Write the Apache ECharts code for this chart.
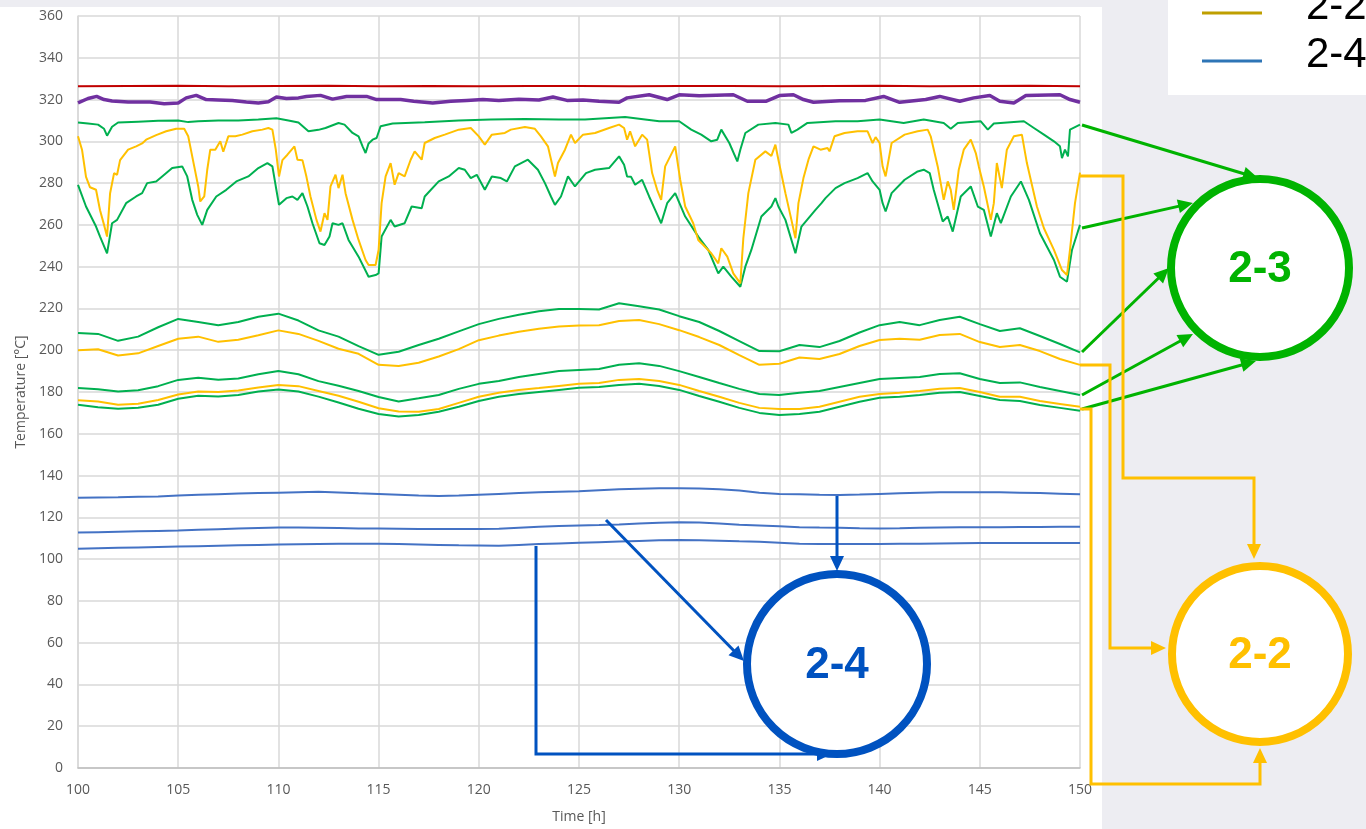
<!DOCTYPE html>
<html>
<head>
<meta charset="utf-8">
<script src="https://cdn.jsdelivr.net/npm/echarts@6/dist/echarts.min.js"></script>
<style>
  html, body { margin: 0; padding: 0; background: #EDEDF2; }
  #chart { width: 1366px; height: 829px; }
</style>
</head>
<body>
<div id="chart"></div>
<script>
// ---- time base for the slowly varying channels (hours) ----
const hours = [100,101,102,103,104,105,106,107,108,109,110,111,112,113,114,115,116,117,118,119,120,
  121,122,123,124,125,126,127,128,129,130,131,132,133,134,135,136,137,138,139,140,
  141,142,143,144,145,146,147,148,149,150];

// ---- fast channels: [time h, temperature °C] ----
const redTop = [[100,326.4],[102.5,326.5],[105,326.6],[107.5,326.4],[110,326.5],[112.5,326.6],[115,326.4],
  [117.5,326.5],[120,326.4],[122.5,326.5],[125,326.5],[127.5,326.4],[130,326.5],[132.5,326.5],[135,326.4],
  [137.5,326.5],[140,326.6],[142.5,326.4],[145,326.5],[147.5,326.6],[150,326.4]];

const purpleTop = [[100,318.4],[100.5,320.5],[100.93,321.5],[101.3,320],[101.7,319.3],[102.5,318.8],[103.6,318.8],
  [104.3,318],[105,318.4],[105.4,320.8],[105.9,322],[106.4,320],[107,319.8],[107.7,319.5],[108.4,318.8],[109,318.4],
  [109.5,319],[109.9,321.2],[110.4,320.5],[111,320.8],[111.4,321.5],[112.1,322],[112.7,320.2],[113.4,321.5],
  [114.4,321.5],[114.9,320],[116.1,320],[116.75,319.2],[117.7,318.4],[118.6,319.2],[119.4,319.6],[120.2,320],
  [121,319.6],[122,320.2],[123,319.8],[123.7,321.2],[124.4,319.6],[125.2,319.8],[126,319.2],[127,318.7],
  [127.4,320.8],[128.5,322.3],[129.4,320],[130,322.3],[131,321.8],[132.7,322.3],[133.4,319.2],[134.35,319.2],
  [135,321.9],[135.7,322.3],[136.2,320],[136.7,318.7],[138,319.4],[139.3,319.6],[140.2,321.5],[141,318.7],
  [142.3,320],[143,321.5],[144,319.2],[144.7,320.8],[145.5,321.9],[146,319.2],[146.7,318.4],[147.3,321.9],
  [149,322.3],[149.5,320],[150,318.7]];

const green23a = [[100,309],[100.5,308.5],[101,308],[101.3,306],[101.45,302.7],[101.7,307],[102,309],[103,309.4],
  [104,309.8],[105,310],[105.5,309.2],[106,309.6],[107,310],[108,310],[109,310.4],[109.9,311],[110.5,310],
  [111,309],[111.5,304.8],[112,305.5],[112.35,306.4],[113,308.8],[113.3,308],[113.7,304],[114,302.4],
  [114.2,297.6],[114.35,294.4],[114.5,299],[114.7,300.8],[114.9,301.6],[115.1,307.2],[115.7,308.5],
  [117.3,309.1],[119,310],[120.6,310.4],[122.3,310.7],[124,310.4],[125.3,310.4],[127.3,311.7],[129,309.6],
  [130,309.6],[130.6,305.6],[131.1,303.2],[131.6,300],[131.9,300.8],[132.1,305.6],[132.5,299.2],[132.9,290.4],
  [133.05,296],[133.3,304],[133.95,308],[134.8,308.8],[135.45,308],[135.6,304],[135.9,305.6],[136.4,308.8],
  [137.8,309.6],[138.9,309.6],[140,310.4],[141.2,308.8],[142.2,310.4],[143.2,308.8],[143.55,306],[143.9,308.8],
  [145.05,309.6],[145.4,305.6],[145.7,308.5],[147.2,309.6],[147.7,306.4],[148.2,303.2],[148.7,300],[149,297.6],
  [149.1,292],[149.25,296],[149.4,292.8],[149.5,305.6],[150,308]];

const yellow22a = [[100,302.4],[100.2,296],[100.4,283],[100.6,278],[100.9,276.8],[101.1,267],[101.3,260],
  [101.45,254.4],[101.6,275],[101.8,284.8],[101.95,284],[102.1,291],[102.5,296],[102.9,297.6],[103.2,299],
  [103.4,300.8],[103.9,303],[104.4,304.8],[104.9,306],[105.3,306],[105.5,302.4],[105.8,288],[106,278.4],
  [106.1,271.2],[106.3,273.6],[106.45,286.4],[106.6,296],[106.85,296],[107.1,300],[107.25,295],[107.5,302.4],
  [107.85,302.4],[108.2,303.2],[108.7,304.8],[109.2,305.6],[109.5,306.4],[109.7,305.6],[109.87,296],
  [110.03,283.2],[110.2,291],[110.45,293.6],[110.8,297.6],[110.95,291.2],[111.2,291],[111.4,283],[111.6,273.6],
  [111.9,262.4],[112.1,256.8],[112.3,265.6],[112.45,262.4],[112.6,278.4],[112.85,284],[113,277.6],[113.2,284],
  [113.35,275.2],[113.7,262.4],[114,252.8],[114.35,243.2],[114.5,240.8],[114.85,240.8],[115,248],[115.15,270.4],
  [115.35,283.2],[115.6,289.6],[115.8,279.2],[116,284.8],[116.3,283.2],[116.6,291.2],[116.8,295.2],
  [117.15,291.2],[117.3,299.2],[117.8,301.6],[118.3,303.2],[119,305.6],[119.6,306.4],[120,302.4],[120.3,298.4],
  [120.65,303.2],[121.3,304],[121.6,305.6],[122.3,306.9],[122.8,306],[123.1,302.4],[123.45,297.6],[123.8,283.2],
  [123.95,289.6],[124.3,296],[124.6,303.2],[124.8,299.2],[125.2,303.2],[125.8,304],[126.5,306.4],[127,308],
  [127.25,306.4],[127.4,300.8],[127.55,304.8],[127.8,297.6],[128.15,303.2],[128.4,300.8],[128.65,284.8],
  [128.9,276.8],[129.1,272],[129.3,288],[129.55,292.8],[129.8,297.6],[130.05,281.6],[130.3,268.8],[130.7,260.8],
  [130.95,252.8],[131.2,250.4],[131.6,246.4],[131.95,241.6],[132.1,248.8],[132.4,244.8],[132.7,236.8],
  [133.05,232],[133.2,253.6],[133.45,275.2],[133.8,291.2],[134.3,295.2],[134.6,293],[134.8,298.4],[134.95,291.2],
  [135.3,275.2],[135.6,262.4],[135.8,253.6],[135.95,270.4],[136.2,282.4],[136.45,291.2],[136.7,297.6],
  [137.05,296],[137.4,296.8],[137.5,295.2],[137.75,302.4],[138.25,304],[138.9,304.8],[139.4,304.8],
  [139.65,299.2],[139.8,302],[140,299.2],[140.15,288],[140.3,283.2],[140.6,299.2],[141.25,303.2],[141.9,304.8],
  [142.4,305.6],[142.55,302.4],[142.9,288],[143.2,272],[143.4,280.8],[143.55,276.8],[143.7,267.2],[143.95,286.4],
  [144.2,296],[144.55,300.8],[144.8,294.4],[144.95,288],[145.2,278.4],[145.55,262.4],[145.7,270.4],
  [145.85,289.6],[146.1,277.6],[146.35,296],[146.7,302.4],[147.1,303.2],[147.35,289.6],[147.85,268.8],
  [148.2,258.4],[148.7,248],[149.1,238.4],[149.35,236],[149.5,248],[149.75,270.4],[150,285]];

const green23b = [[100,279.2],[100.4,268.8],[100.9,259.2],[101.1,254.4],[101.45,246.4],[101.7,260.8],
  [101.95,262.4],[102.4,270.4],[102.9,273.6],[103.2,275.2],[103.45,280],[103.9,280.8],[104.2,283.2],
  [104.7,287.2],[105.2,288],[105.45,283.2],[105.7,272],[105.95,264.8],[106.2,260],[106.45,267.2],[106.9,273.6],
  [107.4,276.8],[107.9,280.8],[108.5,283.2],[109,287.2],[109.45,289.6],[109.7,288],[109.87,278.4],[110.03,269.6],
  [110.4,272.8],[110.7,273.6],[110.95,272],[111.2,275.2],[111.45,268.8],[111.7,260.8],[112.05,251.2],
  [112.3,250.4],[112.55,254.4],[112.7,260.8],[113,260],[113.2,260.8],[113.5,252.8],[114,244.8],[114.5,235.2],
  [114.85,236],[115,236.8],[115.15,254.4],[115.6,262.4],[115.8,259.2],[116.3,260.8],[116.65,268.8],[117.15,268],
  [117.3,273.6],[118,280.8],[118.5,283.2],[119,287.2],[119.3,286.4],[119.6,282.4],[119.9,284],[120.3,276.8],
  [120.65,283.2],[121.1,282.4],[121.4,280.8],[121.8,288],[122.45,291.2],[122.95,286.4],[123.3,280],[123.6,273.6],
  [123.8,269.6],[124.1,273.6],[124.45,283.2],[124.8,278.4],[125.35,284.8],[125.8,286.4],[126.5,287.2],
  [127,292.8],[127.25,288.8],[127.4,283.2],[127.6,283],[127.8,279.2],[128.15,281.6],[128.5,273.6],[128.8,267.2],
  [129.1,260.8],[129.4,270.4],[129.8,275.2],[130.3,264],[130.95,254.4],[131.45,248],[131.95,236.8],[132.2,240],
  [132.6,235.2],[133.05,230.4],[133.3,240],[133.6,248],[134.1,264],[134.6,268.8],[134.8,272.8],[134.95,268.8],
  [135.3,262.4],[135.8,246.4],[136.1,259.2],[136.8,267.2],[137.1,270.4],[137.3,272.8],[137.8,277.6],[138.25,280],
  [138.9,282.4],[139.4,284.8],[139.65,280.8],[140,276.8],[140.15,270.4],[140.3,266.4],[140.6,275.2],
  [141.25,281.6],[141.9,285.6],[142.2,286.4],[142.5,284.8],[142.7,276.8],[143.15,261.6],[143.4,264],
  [143.65,256.8],[144.05,273.6],[144.55,278.4],[144.9,268.8],[145.2,267.2],[145.55,254.4],[145.85,265.6],
  [146.05,260.8],[146.55,273.6],[147.05,280.8],[147.45,272],[148,256],[148.7,243.2],[149,235.2],[149.35,232.8],
  [149.6,248],[150,260]];

// ---- slow channels, one value per hour ----
const green23c = [208.3,207.8,204.5,206.5,211,215,213.5,212,213.5,216,217.5,214.2,209.5,206.5,202,197.8,
  199.3,202.5,205.5,209,212.5,215,217,218.7,219.7,219.7,219.5,222.5,221,219.5,216.3,213.5,209.2,204.4,199.6,
  199.5,202.5,201.5,204.4,208.5,212,213.5,212,214.5,216,212.5,209.2,210.5,206.8,203,199];
const yellow22b = [200,200.5,197.5,198.5,202,205.5,206.5,204,205,207.2,209.5,207.8,204.5,200.7,198.3,193,
  192.5,194,197,200.5,204.8,207,208.8,210.3,211.3,211.8,212,214,214.5,212.5,209.6,206.3,202.5,197.7,193,
  193.5,196.5,195.8,198.2,202,204.9,205.5,205,207.3,207.8,203.9,201.5,202.5,199.6,195.8,193];
const green23d = [181.9,181.3,180.2,180.8,182.8,185.8,186.8,185.9,186.5,188.5,190,188.5,185.2,183,180.5,177.6,
  175.5,177,178.6,181.5,183.9,185.3,187.2,188.6,190,190.5,191,193,193.8,192.5,190,187.2,184.3,181.5,179,
  178.6,179.6,180.5,182.4,184.3,186.2,186.7,187.2,188.6,189,186.2,184.3,184.6,182.4,180.5,178.6];
const yellow22c = [176,175.5,173.9,174.4,176.2,178.8,180.2,180,180.7,182.2,183.4,182.8,180.5,178.2,175.3,172.2,
  170.7,170.5,171.9,174.8,177.7,179.6,181,181.9,182.9,183.9,184.3,185.8,186.2,185.3,183.4,180.5,177.7,174.8,
  172.4,171.9,171.9,172.9,175.3,177.7,179,179.6,180.5,181.5,181.9,180,177.7,177.7,175.7,174.3,172.9];
const green23e = [173.9,172.7,172,172.5,173.9,176.8,178.2,177.9,178.6,180.2,181.2,180.2,177.8,175,172,169.5,
  168.3,169,170.5,172.9,175.7,177.7,179,180,181,182,182.4,183.4,183.9,182.9,181,178.1,175.3,172.4,170,
  169,169.5,170.5,172.9,175.3,177.2,177.7,178.6,179.6,180,178.1,176.2,175.7,173.8,172.4,171];
const blue24a = [129.4,129.5,129.6,129.8,130,130.4,130.8,131.1,131.4,131.6,131.8,132,132.2,131.9,131.5,131.2,
  130.8,130.4,130.2,130.4,130.8,131.2,131.6,132,132.3,132.5,133,133.4,133.7,133.9,133.9,133.8,133.5,132.8,
  131.8,131.2,131,130.8,130.7,130.9,131.2,131.5,131.8,132,132,132,132,131.8,131.6,131.3,131];
const blue24b = [112.7,112.9,113.1,113.3,113.5,113.7,114,114.3,114.6,114.9,115.1,115.1,115,114.9,114.7,114.6,
  114.5,114.4,114.4,114.4,114.4,114.5,115,115.5,115.9,116.1,116.3,116.6,117,117.4,117.6,117.5,117,116.5,
  116.1,115.7,115.3,115.1,115,114.8,114.7,114.8,115,115.1,115.2,115.2,115.3,115.4,115.4,115.5,115.5];
const blue24c = [105,105.2,105.4,105.6,105.8,106,106.2,106.4,106.6,106.8,107,107.1,107.2,107.3,107.4,107.4,
  107.2,107,106.8,106.6,106.5,106.4,106.8,107.2,107.5,107.8,108.1,108.4,108.7,109,109.1,109,108.8,108.5,
  108.3,107.8,107.3,107.2,107.2,107.2,107.2,107.3,107.4,107.5,107.6,107.7,107.7,107.7,107.7,107.7,107.7];

// ---- axis ticks ----
const xTicks = { min: 100, max: 150, step: 5 };
const yTicks = { min: 0, max: 360, step: 20 };

const C = {
  green: '#00B050', yellow: '#FFC000', red: '#C00000', purple: '#7030A0', blue: '#4472C4',
  tag23: '#00B300', tag22: '#FFC000', tag24: '#0052C0', grid: '#D9D9D9', text: '#595959'
};

const withHours = vals => vals.map((v, i) => [hours[i], v]);

function line(name, data, color, width) {
  return {
    name, type: 'line', data, showSymbol: false, symbol: 'none', smooth: false,
    lineStyle: { color, width }, itemStyle: { color }, animation: false, silent: true
  };
}

// ---- annotation helpers (pixel space) ----
function arrow(points, color, width, head) {
  const L = head ? head[0] : 15, W = head ? head[1] : 14;
  const n = points.length;
  const [x1, y1] = points[n - 1], [x0, y0] = points[n - 2];
  const len = Math.hypot(x1 - x0, y1 - y0);
  const dx = (x1 - x0) / len, dy = (y1 - y0) / len;
  const bx = x1 - dx * L, by = y1 - dy * L;
  const px = -dy, py = dx;
  const shaft = points.slice(0, n - 1).concat([[bx + dx * 2, by + dy * 2]]);
  return [
    { type: 'polyline', z: 100, silent: true, shape: { points: shaft },
      style: { stroke: color, lineWidth: width, fill: null, lineJoin: 'miter' } },
    { type: 'polygon', z: 101, silent: true,
      shape: { points: [[x1, y1], [bx + px * W / 2, by + py * W / 2], [bx - px * W / 2, by - py * W / 2]] },
      style: { fill: color } }
  ];
}
function tag(cx, cy, r, color, label) {
  return [
    { type: 'circle', z: 110, silent: true, shape: { cx, cy, r },
      style: { fill: '#FFFFFF', stroke: color, lineWidth: 8 } },
    { type: 'text', z: 111, silent: true,
      style: { text: label, x: cx, y: cy + 2, fill: color, align: 'center', verticalAlign: 'middle',
        textAlign: 'center', textVerticalAlign: 'middle',
        font: 'bold 44px "Liberation Sans", Arial, sans-serif' } }
  ];
}

const graphics = [].concat(
  // white panels
  [{ type: 'rect', z: -10, silent: true, shape: { x: 0, y: 7, width: 1102, height: 822 }, style: { fill: '#FFFFFF' } },
   { type: 'rect', z: -10, silent: true, shape: { x: 1168, y: 0, width: 198, height: 95 }, style: { fill: '#FFFFFF' } },
   // key
   { type: 'line', z: 50, silent: true, shape: { x1: 1202, y1: 13, x2: 1262, y2: 13 }, style: { stroke: '#BF9F00', lineWidth: 3 } },
   { type: 'line', z: 50, silent: true, shape: { x1: 1202, y1: 61, x2: 1262, y2: 61 }, style: { stroke: '#2E75B6', lineWidth: 3 } },
   { type: 'text', z: 50, silent: true, style: { text: '2-2', x: 1306, y: 28, fill: '#000', textVerticalAlign: 'bottom', verticalAlign: 'bottom',
       font: '42px "Liberation Sans", Arial, sans-serif' } },
   { type: 'text', z: 50, silent: true, style: { text: '2-4', x: 1306, y: 76, fill: '#000', textVerticalAlign: 'bottom', verticalAlign: 'bottom',
       font: '42px "Liberation Sans", Arial, sans-serif' } }],
  // 2-3 links
  arrow([[1082, 125], [1258, 178]], C.tag23, 3),
  arrow([[1082, 228], [1193, 203]], C.tag23, 3),
  arrow([[1082, 352], [1169, 268]], C.tag23, 3),
  arrow([[1082, 395], [1193, 334]], C.tag23, 3),
  arrow([[1082, 409], [1256, 361]], C.tag23, 3),
  // 2-2 links
  arrow([[1080, 176], [1123, 176], [1123, 478], [1254, 478], [1254, 559]], C.tag22, 3),
  arrow([[1080, 365], [1110, 365], [1110, 648], [1166, 648]], C.tag22, 3),
  arrow([[1080, 409], [1091, 409], [1091, 784], [1260, 784], [1260, 748]], C.tag22, 3),
  // 2-4 links
  arrow([[837, 496], [837, 571]], C.tag24, 3),
  arrow([[606, 520], [744, 661]], C.tag24, 3),
  arrow([[536, 546], [536, 754], [832, 754]], C.tag24, 3),
  tag(1260, 268, 89, C.tag23, '2-3'),
  tag(1260, 654, 88, C.tag22, '2-2'),
  tag(837, 664, 90, C.tag24, '2-4')
);

const chart = echarts.init(document.getElementById('chart'), null, { renderer: 'canvas' });
chart.setOption({
  backgroundColor: 'transparent',
  animation: false,
  grid: { left: 78, right: 286, top: 16, bottom: 59, containLabel: false },
  xAxis: {
    type: 'value', min: xTicks.min, max: xTicks.max, interval: xTicks.step,
    name: 'Time [h]', nameLocation: 'middle', nameGap: 42,
    nameTextStyle: { color: C.text, fontSize: 14, fontFamily: '"Open Sans", sans-serif' },
    axisLine: { show: true, lineStyle: { color: '#BFBFBF', width: 1.5 } },
    axisTick: { show: false },
    axisLabel: { color: C.text, fontSize: 14, fontFamily: '"Open Sans", sans-serif', margin: 15 },
    splitLine: { show: true, lineStyle: { color: C.grid, width: 1.5 } }
  },
  yAxis: {
    type: 'value', min: yTicks.min, max: yTicks.max, interval: yTicks.step,
    name: 'Temperature [°C]', nameLocation: 'middle', nameGap: 50, nameRotate: 90,
    nameTextStyle: { color: C.text, fontSize: 14, fontFamily: '"Open Sans", sans-serif' },
    axisLine: { show: true, lineStyle: { color: C.grid, width: 1.5 } },
    axisTick: { show: false },
    axisLabel: { color: C.text, fontSize: 14, fontFamily: '"Open Sans", sans-serif', margin: 15 },
    splitLine: { show: true, lineStyle: { color: C.grid, width: 1.5 } }
  },
  graphic: { elements: graphics },
  series: [
    line('2-4 a', withHours(blue24a), C.blue, 2),
    line('2-4 b', withHours(blue24b), C.blue, 2),
    line('2-4 c', withHours(blue24c), C.blue, 2),
    line('2-3 e', withHours(green23e), C.green, 2),
    line('2-2 c', withHours(yellow22c), C.yellow, 2),
    line('2-3 d', withHours(green23d), C.green, 2),
    line('2-2 b', withHours(yellow22b), C.yellow, 2),
    line('2-3 c', withHours(green23c), C.green, 2),
    line('2-3 b', green23b, C.green, 2),
    line('2-2 a', yellow22a, C.yellow, 2),
    line('2-3 a', green23a, C.green, 2),
    line('upper', purpleTop, C.purple, 3.5),
    line('top', redTop, C.red, 2)
  ]
});
</script>
</body>
</html>
